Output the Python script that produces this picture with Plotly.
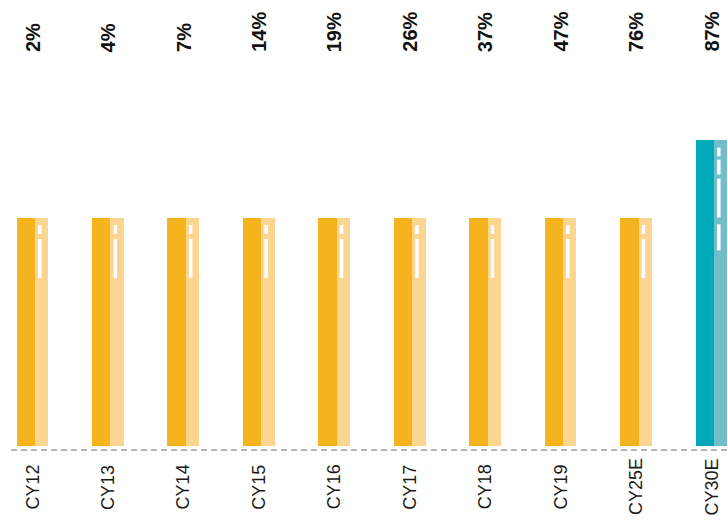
import plotly.graph_objects as go

categories = ["CY12", "CY13", "CY14", "CY15", "CY16", "CY17", "CY18", "CY19", "CY25E", "CY30E"]
pct_labels = ["2%", "4%", "7%", "14%", "19%", "26%", "37%", "47%", "76%", "87%"]
bar_heights = [100, 100, 100, 100, 100, 100, 100, 100, 100, 134]
is_projection = [False] * 9 + [True]

# white dash decorations: (start, end) measured downward from the bar top, in value units
DASH_SHORT = [(3.1, 7.0), (9.2, 26.3)]
DASH_LONG = [(3.1, 7.0), (8.4, 14.9), (16.7, 33.8), (36.8, 48.2)]

DARK_ORANGE, LIGHT_ORANGE = "#F5B31E", "#FCD690"
DARK_TEAL, LIGHT_TEAL = "#00A9B9", "#6FBECA"

PX = 75.44  # pixels per category
YPX = 2.28  # pixels per value unit

xs = list(range(len(categories)))
dark_cols = [DARK_TEAL if p else DARK_ORANGE for p in is_projection]
light_cols = [LIGHT_TEAL if p else LIGHT_ORANGE for p in is_projection]

fig = go.Figure()
fig.add_trace(go.Bar(x=xs, y=bar_heights, offset=-16 / PX, width=18.5 / PX,
                     marker=dict(color=dark_cols, line=dict(width=0)), hoverinfo="skip"))
fig.add_trace(go.Bar(x=xs, y=bar_heights, offset=2.5 / PX, width=13.3 / PX,
                     marker=dict(color=light_cols, line=dict(width=0)), hoverinfo="skip"))

for i, (h, p) in enumerate(zip(bar_heights, is_projection)):
    segs = DASH_LONG if p else DASH_SHORT
    dx, dy = [], []
    for a, b in segs:
        dx += [i + 7.3 / PX, i + 7.3 / PX, None]
        dy += [h - a, h - b, None]
    fig.add_trace(go.Scatter(x=dx, y=dy, mode="lines", line=dict(color="white", width=3.5),
                             hoverinfo="skip", showlegend=False))

annotations = []
for i, (c, t) in enumerate(zip(categories, pct_labels)):
    annotations.append(dict(x=i, y=(446 - 54) / 446, xref="x", yref="paper",
                            text="<b>" + t + "</b>",
                            textangle=-90, showarrow=False, xanchor="center", yanchor="bottom",
                            font=dict(family="Liberation Sans", size=20, color="#111111")))
    annotations.append(dict(x=i, y=(446 - 487) / 446, xref="x", yref="paper", text=c,
                            textangle=-90, showarrow=False, xanchor="center", yanchor="middle",
                            font=dict(family="Liberation Sans", size=18, color="#1a1a1a")))

fig.update_layout(
    width=728, height=530,
    margin=dict(l=0, r=0, t=0, b=84, pad=0),
    barmode="overlay", bargap=0,
    showlegend=False,
    plot_bgcolor="white", paper_bgcolor="white",
    xaxis=dict(range=[-32.5 / PX, 9 + 16.5 / PX], visible=False, fixedrange=True),
    yaxis=dict(range=[0, 446 / YPX], visible=False, fixedrange=True),
    annotations=annotations,
    shapes=[dict(type="line", xref="paper", yref="paper", x0=11 / 728, x1=1,
                 y0=-4 / 446, y1=-4 / 446,
                 line=dict(color="#B5B5B5", width=2, dash="6px,4px"))],
)

fig.write_html("out.html", config={"displayModeBar": False},
               post_script="document.body.style.margin='0';document.body.style.overflow='hidden';")
